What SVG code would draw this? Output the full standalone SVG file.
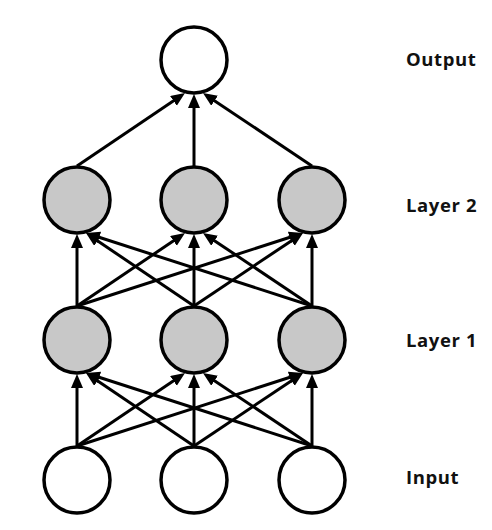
<svg xmlns="http://www.w3.org/2000/svg" width="492" height="530" viewBox="0 0 492 530">
<style>
.node{stroke:#000;stroke-width:3.5}
.io{fill:#fff}
.hid{fill:#c8c8c8}
.edge{stroke:#000;stroke-width:3;fill:none;marker-end:url(#ah)}
.lbl{font-family:"Open Sans","Liberation Sans",sans-serif;font-weight:700;font-size:18.5px;letter-spacing:0.6px;fill:#111}
</style>
<defs>
<marker id="ah" markerUnits="userSpaceOnUse" markerWidth="16" markerHeight="13" refX="6" refY="6" orient="auto">
<path d="M0,0 L14,6 L0,12 z" fill="#000"/>
</marker>
</defs>
<rect width="492" height="530" fill="#fff"/>
<g id="connectors">
<line class="edge" x1="77" y1="446" x2="77" y2="382"/>
<line class="edge" x1="77" y1="446" x2="178.4" y2="377.5"/>
<line class="edge" x1="77" y1="446" x2="295.4" y2="375.5"/>
<line class="edge" x1="194" y1="446" x2="92.6" y2="377.5"/>
<line class="edge" x1="194" y1="446" x2="194" y2="382"/>
<line class="edge" x1="194" y1="446" x2="296.4" y2="377.4"/>
<line class="edge" x1="312" y1="446" x2="93.6" y2="375.5"/>
<line class="edge" x1="312" y1="446" x2="209.6" y2="377.4"/>
<line class="edge" x1="312" y1="446" x2="312" y2="382"/>
<line class="edge" x1="77" y1="306" x2="77" y2="242"/>
<line class="edge" x1="77" y1="306" x2="178.4" y2="237.5"/>
<line class="edge" x1="77" y1="306" x2="295.4" y2="235.5"/>
<line class="edge" x1="194" y1="306" x2="92.6" y2="237.5"/>
<line class="edge" x1="194" y1="306" x2="194" y2="242"/>
<line class="edge" x1="194" y1="306" x2="296.4" y2="237.4"/>
<line class="edge" x1="312" y1="306" x2="93.6" y2="235.5"/>
<line class="edge" x1="312" y1="306" x2="209.6" y2="237.4"/>
<line class="edge" x1="312" y1="306" x2="312" y2="242"/>
<line class="edge" x1="77" y1="166" x2="178.4" y2="97.5"/>
<line class="edge" x1="194" y1="166" x2="194" y2="102"/>
<line class="edge" x1="312" y1="166" x2="209.6" y2="97.4"/>
</g>
<g id="output"><circle class="node io" cx="194" cy="60" r="33"/></g>
<g id="l2a"><circle class="node hid" cx="77" cy="200" r="33"/></g>
<g id="l2b"><circle class="node hid" cx="194" cy="200" r="33"/></g>
<g id="l2c"><circle class="node hid" cx="312" cy="200" r="33"/></g>
<g id="l1a"><circle class="node hid" cx="77" cy="340" r="33"/></g>
<g id="l1b"><circle class="node hid" cx="194" cy="340" r="33"/></g>
<g id="l1c"><circle class="node hid" cx="312" cy="340" r="33"/></g>
<g id="in1"><circle class="node io" cx="77" cy="480" r="33"/></g>
<g id="in2"><circle class="node io" cx="194" cy="480" r="33"/></g>
<g id="in3"><circle class="node io" cx="312" cy="480" r="33"/></g>
<g id="labels">
<text class="lbl" x="406" y="66">Output</text>
<text class="lbl" x="406" y="212">Layer 2</text>
<text class="lbl" x="406" y="347">Layer 1</text>
<text class="lbl" x="406" y="484">Input</text>
</g>
</svg>
